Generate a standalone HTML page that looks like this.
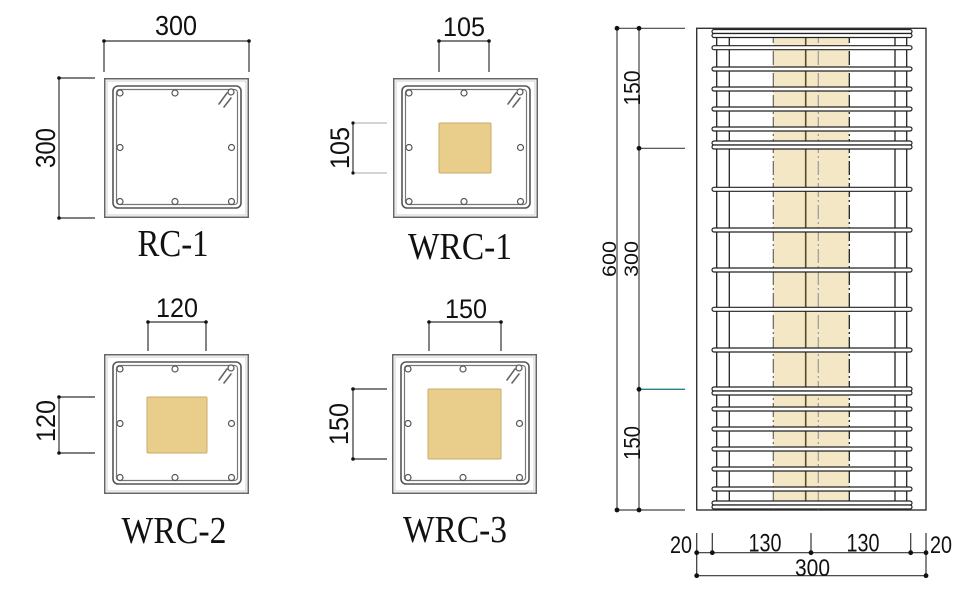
<!DOCTYPE html>
<html><head><meta charset="utf-8"><style>
html,body{margin:0;padding:0;background:#fff;}
svg{display:block;}
.d{font-family:"Liberation Sans",sans-serif;fill:#111;}
.l{font-family:"Liberation Serif",serif;fill:#111;}
</style></head><body>
<svg width="966" height="589" viewBox="0 0 966 589" xmlns="http://www.w3.org/2000/svg">
<defs>
<g id="sec">
  <rect x="0.75" y="0.75" width="143.5" height="138.5" fill="#fff" stroke="#666" stroke-width="1.5"/>
  <rect x="3" y="3" width="139" height="134" fill="none" stroke="#d0d0d0" stroke-width="1"/>
  <rect x="9" y="8" width="128" height="122" rx="5" fill="none" stroke="#555" stroke-width="1.6"/>
  <rect x="12.5" y="11.5" width="121" height="115" rx="3" fill="none" stroke="#777" stroke-width="1.2"/>
  <g fill="#fff" stroke="#555" stroke-width="1.2">
    <circle cx="16" cy="15" r="3"/>
    <circle cx="71" cy="15" r="3"/>
    <circle cx="16" cy="69.5" r="3"/>
    <circle cx="127.5" cy="69.5" r="3"/>
    <circle cx="16" cy="123.5" r="3"/>
    <circle cx="71" cy="123.5" r="3"/>
    <circle cx="127.5" cy="123.5" r="3"/>
    <circle cx="127" cy="14" r="3"/>
  </g>
  <g stroke="#666" stroke-width="1.6" stroke-linecap="round">
    <line x1="123" y1="15" x2="115" y2="26"/>
    <line x1="127" y1="20" x2="120" y2="29"/>
  </g>
</g>
</defs>

<!-- RC-1 -->
<use href="#sec" x="104" y="78"/>
<g stroke="#333" stroke-width="1.2" fill="none">
  <line x1="104" y1="41" x2="249" y2="41"/>
  <line x1="104" y1="41" x2="104" y2="72"/>
  <line x1="249" y1="41" x2="249" y2="72"/>
  <line x1="59" y1="78" x2="59" y2="218"/>
  <line x1="59" y1="78" x2="95" y2="78"/>
  <line x1="59" y1="218" x2="95" y2="218"/>
</g>
<g fill="#111"><circle cx="104" cy="41" r="1.8"/><circle cx="249" cy="41" r="1.8"/><circle cx="59" cy="78" r="1.8"/><circle cx="59" cy="218" r="1.8"/></g>
<text class="d" x="176" y="35" font-size="28" text-anchor="middle" textLength="42" lengthAdjust="spacingAndGlyphs">300</text>
<text class="d" transform="translate(55,148) rotate(-90)" font-size="28" text-anchor="middle" textLength="40" lengthAdjust="spacingAndGlyphs">300</text>
<text class="l" x="173" y="256" font-size="38" text-anchor="middle" textLength="71" lengthAdjust="spacingAndGlyphs">RC-1</text>

<!-- WRC-1 -->
<use href="#sec" x="393" y="78"/>
<rect x="439" y="123" width="52" height="50" rx="1" fill="#e9cd8b" stroke="#c9ad6b" stroke-width="1"/>
<g stroke="#333" stroke-width="1.2" fill="none">
  <line x1="439" y1="41" x2="489" y2="41"/>
  <line x1="439" y1="41" x2="439" y2="72"/>
  <line x1="489" y1="41" x2="489" y2="72"/>
  <line x1="353" y1="123" x2="353" y2="173"/>
</g>
<g stroke="#aaa" stroke-width="1"><line x1="353" y1="123" x2="387" y2="123"/><line x1="353" y1="173" x2="387" y2="173"/></g>
<g fill="#111"><circle cx="439" cy="41" r="1.8"/><circle cx="489" cy="41" r="1.8"/><circle cx="353" cy="123" r="1.6"/><circle cx="353" cy="173" r="1.6"/></g>
<text class="d" x="464" y="36" font-size="27" text-anchor="middle" textLength="42" lengthAdjust="spacingAndGlyphs">105</text>
<text class="d" transform="translate(349,148) rotate(-90)" font-size="27" text-anchor="middle" textLength="42" lengthAdjust="spacingAndGlyphs">105</text>
<text class="l" x="460" y="259" font-size="38" text-anchor="middle" textLength="104" lengthAdjust="spacingAndGlyphs">WRC-1</text>

<!-- WRC-2 -->
<use href="#sec" x="104" y="354"/>
<rect x="147" y="397" width="60" height="56" rx="1" fill="#e9cd8b" stroke="#c9ad6b" stroke-width="1"/>
<g stroke="#333" stroke-width="1.2" fill="none">
  <line x1="148" y1="322" x2="206" y2="322"/>
  <line x1="148" y1="322" x2="148" y2="351"/>
  <line x1="206" y1="322" x2="206" y2="351"/>
  <line x1="59" y1="397" x2="59" y2="453"/>
  <line x1="59" y1="397" x2="95" y2="397"/>
  <line x1="59" y1="453" x2="95" y2="453"/>
</g>
<g fill="#111"><circle cx="148" cy="322" r="1.8"/><circle cx="206" cy="322" r="1.8"/><circle cx="59" cy="397" r="1.8"/><circle cx="59" cy="453" r="1.8"/></g>
<text class="d" x="177" y="317" font-size="27" text-anchor="middle" textLength="42" lengthAdjust="spacingAndGlyphs">120</text>
<text class="d" transform="translate(55,421) rotate(-90)" font-size="27" text-anchor="middle" textLength="42" lengthAdjust="spacingAndGlyphs">120</text>
<text class="l" x="174" y="543" font-size="38" text-anchor="middle" textLength="105" lengthAdjust="spacingAndGlyphs">WRC-2</text>

<!-- WRC-3 -->
<use href="#sec" x="392" y="354"/>
<rect x="428" y="389" width="73" height="70" rx="1" fill="#e9cd8b" stroke="#c9ad6b" stroke-width="1"/>
<g stroke="#333" stroke-width="1.2" fill="none">
  <line x1="429" y1="322" x2="501" y2="322"/>
  <line x1="429" y1="322" x2="429" y2="351"/>
  <line x1="501" y1="322" x2="501" y2="351"/>
  <line x1="353" y1="389" x2="353" y2="459"/>
  <line x1="353" y1="389" x2="387" y2="389"/>
  <line x1="353" y1="459" x2="387" y2="459"/>
</g>
<g fill="#111"><circle cx="429" cy="322" r="1.8"/><circle cx="501" cy="322" r="1.8"/><circle cx="353" cy="389" r="1.8"/><circle cx="353" cy="459" r="1.8"/></g>
<text class="d" x="466" y="318" font-size="27" text-anchor="middle" textLength="42" lengthAdjust="spacingAndGlyphs">150</text>
<text class="d" transform="translate(348,424) rotate(-90)" font-size="27" text-anchor="middle" textLength="42" lengthAdjust="spacingAndGlyphs">150</text>
<text class="l" x="455" y="542" font-size="38" text-anchor="middle" textLength="104" lengthAdjust="spacingAndGlyphs">WRC-3</text>

<!-- ELEVATION -->
<rect x="773.3" y="29" width="76" height="481" fill="#f3e7c6"/>
<rect x="696.7" y="28.3" width="229.3" height="481.7" fill="none" stroke="#333" stroke-width="1.4"/>
<g stroke="#222" stroke-width="1.3">
  <line x1="716.7" y1="29" x2="716.7" y2="510"/>
  <line x1="729.3" y1="29" x2="729.3" y2="510"/>
  <line x1="895" y1="29" x2="895" y2="510"/>
  <line x1="906.7" y1="29" x2="906.7" y2="510"/>
</g>
<line x1="805.7" y1="29" x2="805.7" y2="510" stroke="#5a4a30" stroke-width="1.6"/>
<line x1="818.3" y1="29" x2="818.3" y2="510" stroke="#999" stroke-width="1.2" stroke-dasharray="14,3,2,3"/>
<line x1="773.3" y1="29" x2="773.3" y2="510" stroke="#666" stroke-width="1.2" stroke-dasharray="14,3,2,3"/>
<line x1="849.3" y1="29" x2="849.3" y2="510" stroke="#222" stroke-width="1.3" stroke-dasharray="14,3,2,3"/>
<g fill="#fff" stroke="#222" stroke-width="1.2">
  <rect x="712" y="29.5" width="200" height="4" rx="2"/>
  <rect x="712" y="33.5" width="200" height="4" rx="2"/>
  <rect x="712" y="45.7" width="200" height="4" rx="2"/>
  <rect x="712" y="67" width="200" height="4" rx="2"/>
  <rect x="712" y="87" width="200" height="4" rx="2"/>
  <rect x="712" y="107" width="200" height="4" rx="2"/>
  <rect x="712" y="127" width="200" height="4" rx="2"/>
  <rect x="712" y="141" width="200" height="4" rx="2"/>
  <rect x="712" y="145" width="200" height="4" rx="2"/>
  <rect x="712" y="187.3" width="200" height="4" rx="2"/>
  <rect x="712" y="228" width="200" height="4" rx="2"/>
  <rect x="712" y="268" width="200" height="4" rx="2"/>
  <rect x="712" y="307.3" width="200" height="4" rx="2"/>
  <rect x="712" y="348" width="200" height="4" rx="2"/>
  <rect x="712" y="387" width="200" height="4" rx="2"/>
  <rect x="712" y="391" width="200" height="4" rx="2"/>
  <rect x="712" y="407" width="200" height="4" rx="2"/>
  <rect x="712" y="427" width="200" height="4" rx="2"/>
  <rect x="712" y="447" width="200" height="4" rx="2"/>
  <rect x="712" y="467" width="200" height="4" rx="2"/>
  <rect x="712" y="487" width="200" height="4" rx="2"/>
  <rect x="712" y="501" width="200" height="4" rx="2"/>
  <rect x="712" y="505" width="200" height="4" rx="2"/>
</g>

<!-- elevation left dims -->
<g stroke="#444" stroke-width="1.2" fill="none">
  <line x1="617" y1="28.3" x2="617" y2="510"/>
  <line x1="639" y1="28.3" x2="639" y2="510"/>
  <line x1="617" y1="28.3" x2="685" y2="28.3"/>
  <line x1="639" y1="148.3" x2="685" y2="148.3"/>
  <line x1="617" y1="510" x2="685" y2="510"/>
</g>
<line x1="639" y1="389.3" x2="685" y2="389.3" stroke="#2a7f80" stroke-width="1.3"/>
<g fill="#111">
  <circle cx="617" cy="28.3" r="2.4"/><circle cx="639" cy="28.3" r="2.4"/>
  <circle cx="639" cy="148.3" r="2.4"/><circle cx="639" cy="389.3" r="2.4"/>
  <circle cx="617" cy="510" r="2.4"/><circle cx="639" cy="510" r="2.4"/>
</g>
<text class="d" transform="translate(640,88) rotate(-90)" font-size="23" text-anchor="middle" textLength="35" lengthAdjust="spacingAndGlyphs">150</text>
<text class="d" transform="translate(638,259) rotate(-90)" font-size="19" text-anchor="middle" textLength="36" lengthAdjust="spacingAndGlyphs">300</text>
<text class="d" transform="translate(616,259) rotate(-90)" font-size="19" text-anchor="middle" textLength="36" lengthAdjust="spacingAndGlyphs">600</text>
<text class="d" transform="translate(640,443) rotate(-90)" font-size="23" text-anchor="middle" textLength="34" lengthAdjust="spacingAndGlyphs">150</text>

<!-- elevation bottom dims -->
<g stroke="#333" stroke-width="1.2" fill="none">
  <line x1="696.7" y1="552.7" x2="926" y2="552.7"/>
  <line x1="696.7" y1="575.7" x2="926" y2="575.7"/>
  <line x1="696.7" y1="533" x2="696.7" y2="577"/>
  <line x1="926" y1="533" x2="926" y2="577"/>
  <line x1="712.3" y1="533" x2="712.3" y2="553"/>
  <line x1="811" y1="533" x2="811" y2="553"/>
  <line x1="910.7" y1="533" x2="910.7" y2="553"/>
</g>
<g fill="#111">
  <circle cx="696.7" cy="552.7" r="2.4"/><circle cx="712.3" cy="552.7" r="2.4"/>
  <circle cx="811" cy="552.7" r="2.4"/><circle cx="910.7" cy="552.7" r="2.4"/>
  <circle cx="926" cy="552.7" r="2.4"/>
  <circle cx="696.7" cy="575.7" r="2.4"/><circle cx="926" cy="575.7" r="2.4"/>
</g>
<text class="d" x="681" y="553" font-size="24" text-anchor="middle" textLength="22" lengthAdjust="spacingAndGlyphs">20</text>
<text class="d" x="765" y="551.5" font-size="25" text-anchor="middle" textLength="33" lengthAdjust="spacingAndGlyphs">130</text>
<text class="d" x="863" y="551.5" font-size="25" text-anchor="middle" textLength="33" lengthAdjust="spacingAndGlyphs">130</text>
<text class="d" x="941" y="553" font-size="24" text-anchor="middle" textLength="22" lengthAdjust="spacingAndGlyphs">20</text>
<text class="d" x="812.5" y="576" font-size="24" text-anchor="middle" textLength="35" lengthAdjust="spacingAndGlyphs">300</text>
</svg>
</body></html>
